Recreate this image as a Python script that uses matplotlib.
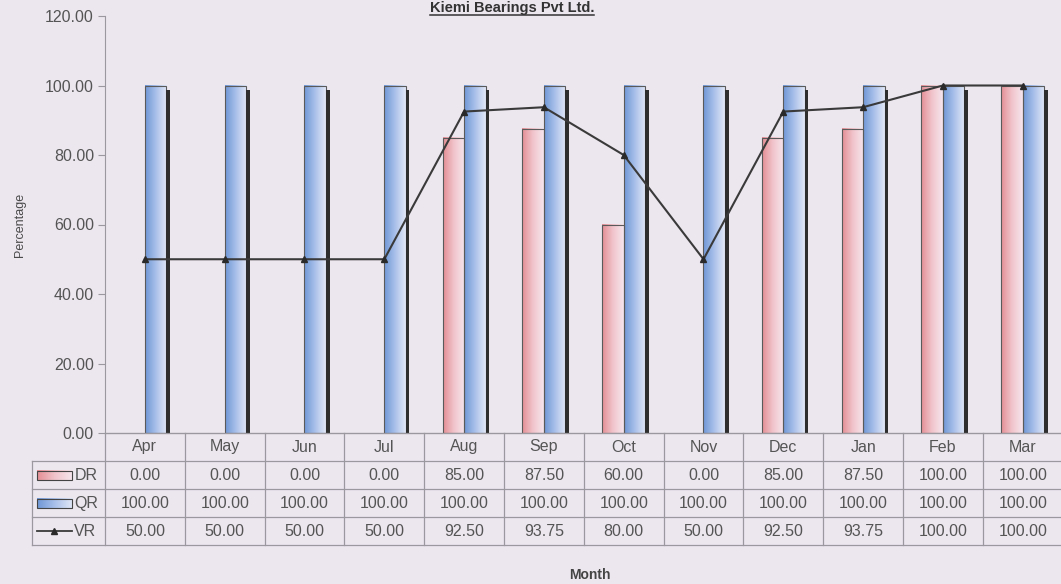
"""Monthly DR / QR / VR percentages with data table underneath."""

import matplotlib
matplotlib.use('Agg')
import matplotlib.pyplot as plt
import numpy as np
from matplotlib.patches import Rectangle
from matplotlib.colors import LinearSegmentedColormap

plt.rcParams.update({
    'font.family': ['Liberation Sans', 'DejaVu Sans'],
    'font.size': 11,
})

months = ['Apr', 'May', 'Jun', 'Jul', 'Aug', 'Sep', 'Oct', 'Nov', 'Dec', 'Jan', 'Feb', 'Mar']
dr = [0.00, 0.00, 0.00, 0.00, 85.00, 87.50, 60.00, 0.00, 85.00, 87.50, 100.00, 100.00]
qr = [100.00] * 12
vr = [50.00, 50.00, 50.00, 50.00, 92.50, 93.75, 80.00, 50.00, 92.50, 93.75, 100.00, 100.00]
series_names = ['DR', 'QR', 'VR']
title = 'Kiemi Bearings Pvt Ltd.'

W, H = 1061, 584
BG = '#ece6ef'
TXT = '#555555'
LINE = '#9c98a0'

red_cmap = LinearSegmentedColormap.from_list('r', ['#e48f95', '#f1c4cb', '#f6e6ee'])
blue_cmap = LinearSegmentedColormap.from_list('b', ['#6f97d6', '#a9c0ea', '#e2e8f7'])
grad = np.linspace(0, 1, 64).reshape(1, -1)

fig = plt.figure(figsize=(W / 100, H / 100), dpi=100, facecolor=BG)

# main plot area in pixels: x 105..1061, y 16..433
ax = fig.add_axes([105 / W, (H - 433) / H, 956 / W, 417 / H])
ax.set_facecolor(BG)
ax.set_xlim(-0.5, 11.48)
ax.set_ylim(0, 120)

bw = 0.27
x = np.arange(len(months))


def grad_bar(xl, h, cmap, shadow):
    if h <= 0:
        return
    ax.imshow(grad, cmap=cmap, aspect='auto', extent=(xl, xl + bw, 0, h),
              zorder=2, interpolation='bilinear')
    ax.add_patch(Rectangle((xl, 0), bw, h, fill=False, edgecolor='#5a5a5a',
                           linewidth=0.8, zorder=3))
    if shadow:
        ax.add_patch(Rectangle((xl + bw, 0), 0.045, h - 1.2, facecolor='#2e2e2e',
                               edgecolor='none', zorder=3))


for i in range(len(months)):
    grad_bar(x[i] - bw, dr[i], red_cmap, False)
    grad_bar(x[i], qr[i], blue_cmap, True)

ax.plot(x, vr, color='#3a3a3a', linewidth=1.5, marker='^', markersize=5,
        markerfacecolor='#2a2a2a', markeredgecolor='#2a2a2a', zorder=5)

for s in ['top', 'right']:
    ax.spines[s].set_visible(False)
ax.spines['left'].set_color(LINE)
ax.spines['bottom'].set_color(LINE)
ax.set_xticks([])
ax.set_yticks(np.arange(0, 121, 20))
ax.set_yticklabels([f'{v:.2f}' for v in np.arange(0, 121, 20)], color=TXT, fontsize=11.5)
ax.tick_params(axis='y', length=5, color=LINE, pad=3)
ax.set_ylabel('Percentage', color='#4a4a4a', fontsize=9, labelpad=14)

# data table below the axis: rows of 28 px from 433 to 545
tab = fig.add_axes([105 / W, (H - 545) / H, 956 / W, 112 / H])
tab.axis('off')
lx = -0.5 - 73 / 79.8  # legend column left edge

kw = dict(color=LINE, linewidth=0.9, clip_on=False)
tab.plot([-0.5, 11.48], [0, 0], **kw)
for r in range(1, 5):
    tab.plot([lx, 11.48], [r, r], **kw)
for c in range(13):
    tab.plot([c - 0.5, c - 0.5], [0, 4], **kw)
tab.plot([lx, lx], [1, 4], **kw)

for i, m in enumerate(months):
    tab.text(i, 0.5, m, ha='center', va='center', color=TXT, fontsize=11.5)
for r, vals in enumerate([dr, qr, vr], start=1):
    for i, v in enumerate(vals):
        tab.text(i, r + 0.5, f'{v:.2f}', ha='center', va='center', color=TXT,
                 fontsize=11.5, clip_on=False)

# legend keys inside the first column
kx0, kx1 = lx + 0.06, lx + 0.5
for r, (name, cmap) in enumerate([('DR', red_cmap), ('QR', blue_cmap)], start=1):
    tab.imshow(grad, cmap=cmap, aspect='auto', extent=(kx0, kx1, r + 0.68, r + 0.35),
               clip_on=False, interpolation='bilinear')
    tab.add_patch(Rectangle((kx0, r + 0.35), kx1 - kx0, 0.33, fill=False,
                            edgecolor='#444444', linewidth=0.8, clip_on=False))
    tab.text(kx1 + 0.03, r + 0.52, name, ha='left', va='center', color=TXT, fontsize=11.5,
             clip_on=False)
tab.plot([kx0, kx1], [3.5, 3.5], color='#3a3a3a', linewidth=1.3, clip_on=False)
tab.plot([(kx0 + kx1) / 2], [3.5], marker='^', markersize=5, color='#2a2a2a', clip_on=False)
tab.text(kx1 + 0.03, 3.52, series_names[2], ha='left', va='center', color=TXT,
         fontsize=11.5, clip_on=False)
tab.set_xlim(-0.5, 11.48)
tab.set_ylim(4, 0)

fig.text(590 / W, 1 - 575 / H, 'Month', ha='center', va='center', color='#444444',
         fontsize=10, fontweight='bold')

# underlined bold title squeezed into the top strip
fig.text(512 / W, 1 - 1 / H, title, ha='center', va='top', color='#333333',
         fontsize=10.5, fontweight='bold')
fig.add_artist(plt.Line2D([430 / W, 594 / W], [1 - 15 / H, 1 - 15 / H], color='#333333',
                          linewidth=1.1, transform=fig.transFigure))

fig.savefig('out.png', dpi=100, facecolor=BG)
plt.close()
